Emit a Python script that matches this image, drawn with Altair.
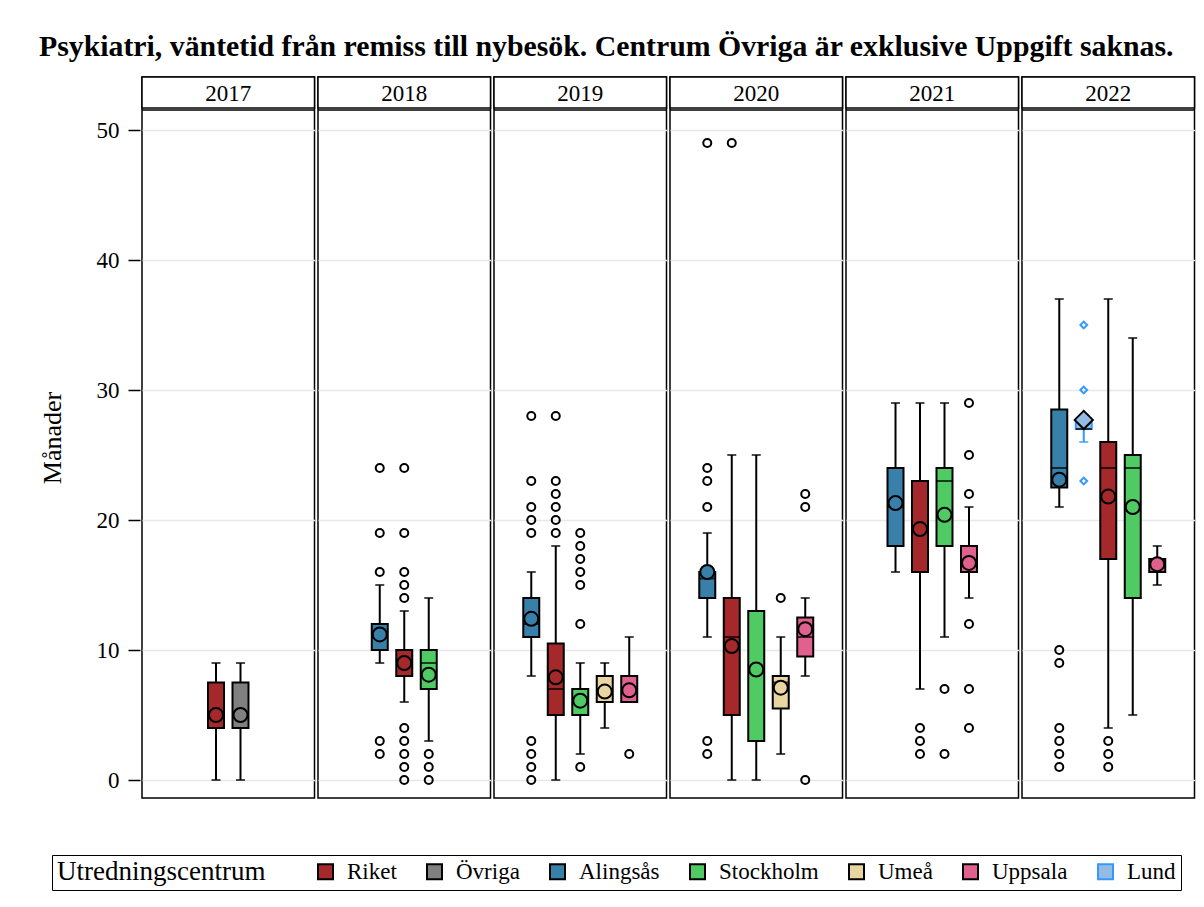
import altair as alt
import pandas as pd

FONT = "Liberation Serif"
W = 172.5        # panel width
HDR = 31         # header box height inside each panel
GAP = 2          # gap between header box and plot box
H = 721          # full panel height (header + plot)
PX_PER_UNIT = 13.0

# ---- box statistics (one row per year/centre) ----
box_year   = [2017, 2017, 2018, 2018, 2018, 2019, 2019, 2019, 2019, 2019,
              2020, 2020, 2020, 2020, 2020, 2021, 2021, 2021, 2021,
              2022, 2022, 2022, 2022, 2022]
box_center = ["Riket", "Övriga", "Alingsås", "Riket", "Stockholm",
              "Alingsås", "Riket", "Stockholm", "Umeå", "Uppsala",
              "Alingsås", "Riket", "Stockholm", "Umeå", "Uppsala",
              "Alingsås", "Riket", "Stockholm", "Uppsala",
              "Alingsås", "Lund", "Riket", "Stockholm", "Uppsala"]
box_min    = [0, 0, 9, 6, 3, 8, 0, 2, 4, 6, 11, 0, 0, 2, 8, 16, 7, 11, 14, 21, 26, 4, 5, 15]
box_q1     = [4, 4, 10, 8, 7, 11, 5, 5, 6, 6, 14, 5, 3, 5.5, 9.5, 18, 16, 18, 16, 22.5, 27, 17, 14, 16]
box_median = [5, 5, 11, 9, 9, 12, 7, 6, 7, 7, 15.5, 11, 8.5, 7.5, 11, 21, 19.5, 23, 16, 24, 27, 24, 24, 16.5]
box_q3     = [7.5, 7.5, 12, 10, 10, 14, 10.5, 7, 8, 8, 16, 14, 13, 8, 12.5, 24, 23, 24, 18, 28.5, 27.5, 26, 25, 17]
box_max    = [9, 9, 15, 13, 14, 16, 18, 9, 9, 11, 19, 25, 25, 11, 14, 29, 29, 29, 21, 37, 27.5, 37, 34, 18]
box_mean   = [5, 5, 11.2, 9.0, 8.1, 12.4, 7.9, 6.1, 6.8, 6.9, 16.0, 10.3, 8.5, 7.1, 11.6,
              21.3, 19.3, 20.4, 16.7, 23.1, 27.7, 21.8, 21.0, 16.6]

# ---- outliers ----
out_year   = ([2018] * 5 + [2018] * 10 + [2018] * 3 +
              [2019] * 9 + [2019] * 6 + [2019] * 7 + [2019] * 1 +
              [2020] * 6 + [2020] * 1 + [2020] * 1 + [2020] * 3 +
              [2021] * 3 + [2021] * 2 + [2021] * 6 +
              [2022] * 6 + [2022] * 3 + [2022] * 3)
out_center = (["Alingsås"] * 5 + ["Riket"] * 10 + ["Stockholm"] * 3 +
              ["Alingsås"] * 9 + ["Riket"] * 6 + ["Stockholm"] * 7 + ["Uppsala"] * 1 +
              ["Alingsås"] * 6 + ["Riket"] * 1 + ["Umeå"] * 1 + ["Uppsala"] * 3 +
              ["Riket"] * 3 + ["Stockholm"] * 2 + ["Uppsala"] * 6 +
              ["Alingsås"] * 6 + ["Lund"] * 3 + ["Riket"] * 3)
out_value  = ([24, 19, 16, 3, 2] + [24, 19, 16, 15, 14, 4, 3, 2, 1, 0] + [2, 1, 0] +
              [28, 23, 21, 20, 19, 3, 2, 1, 0] + [28, 23, 22, 21, 20, 19] +
              [19, 18, 17, 16, 15, 12, 1] + [2] +
              [49, 24, 23, 21, 3, 2] + [49] + [14] + [22, 21, 0] +
              [4, 3, 2] + [7, 2] + [29, 25, 22, 12, 7, 4] +
              [10, 9, 4, 3, 2, 1] + [35, 30, 23] + [3, 2, 1])

center_order = ["Alingsås", "Lund", "Riket", "Stockholm", "Umeå", "Uppsala", "Övriga"]
legend_order = ["Riket", "Övriga", "Alingsås", "Stockholm", "Umeå", "Uppsala", "Lund"]
fill_colors  = ["#A5292B", "#808080", "#3880AA", "#50CB64", "#E8D5A2", "#E0608E", "#93BBE4"]
stroke_colors = ["black", "black", "black", "black", "black", "black", "#3399FF"]
LUND = "#3399FF"

boxes = pd.DataFrame(dict(year=box_year, center=box_center, lo=box_min, q1=box_q1,
                          med=box_median, q3=box_q3, hi=box_max, mean=box_mean))
boxes["ord"] = boxes["center"].map(center_order.index)
boxes = boxes.sort_values(["year", "ord"]).reset_index(drop=True)
n_in_year = boxes.groupby("year")["center"].transform("count")
boxes["slot"] = boxes.groupby("year").cumcount() - (n_in_year - 1) / 2
boxes["kind"] = "box"

outs = pd.DataFrame(dict(year=out_year, center=out_center, val=out_value))
outs = outs.merge(boxes[["year", "center", "slot"]], on=["year", "center"])
outs["kind"] = "out"

data = pd.concat([boxes, outs], ignore_index=True)

half = W / 52.0
X = alt.X("slot:Q", scale=alt.Scale(domain=[-half, half], nice=False, zero=False), axis=None)
yscale = alt.Scale(domain=[-18 / PX_PER_UNIT, (H - 18) / PX_PER_UNIT], nice=False, zero=False)
yaxis = alt.Axis(values=[0, 10, 20, 30, 40, 50], tickSize=12, tickWidth=1.5, tickColor="black",
                 labelPadding=9, labelFontSize=23, labelFont=FONT, labelColor="black",
                 title="Månader", titleFont=FONT, titleFontSize=26, titleFontWeight="normal",
                 titleColor="black", titlePadding=31, grid=True, gridColor="#e8e8e8",
                 gridWidth=1.5, domain=False)

legend = alt.Legend(title="Utredningscentrum", orient="none", legendX=-90, legendY=778,
                    direction="horizontal",
                    titleOrient="left", titleFont=FONT, titleFontSize=27, titleLimit=400,
                    titleFontWeight="normal", titleColor="black", titlePadding=48,
                    labelFont=FONT, labelFontSize=23, labelColor="black", labelOffset=10,
                    labelLimit=300,
                    symbolType="square", symbolSize=225, symbolStrokeWidth=2,
                    columnPadding=26, strokeColor="black", padding=5)
FILL = alt.Fill("center:N", scale=alt.Scale(domain=legend_order, range=fill_colors), legend=legend)
STROKE = alt.Stroke("center:N", scale=alt.Scale(domain=legend_order, range=stroke_colors), legend=legend)
is_lund = alt.datum.center == "Lund"
line_col = alt.condition(is_lund, alt.value(LUND), alt.value("black"))


def Y(field):
    return alt.Y(field, scale=yscale, axis=yaxis)


base = alt.Chart().encode(x=X)
isbox = alt.datum.kind == "box"
isout = alt.datum.kind == "out"

# header box with the year, drawn at the top of every panel
per_year = alt.Chart().transform_filter(isbox).transform_aggregate(n="count()", groupby=["year"])
hdr_box = per_year.mark_rect(fill="white", stroke="black", strokeWidth=1.5).encode(
    x=alt.value(0), x2=alt.value(W), y=alt.value(0), y2=alt.value(HDR))
hdr_sep = per_year.mark_rule(color="black", strokeWidth=1.5).encode(
    x=alt.value(0), x2=alt.value(W), y=alt.value(HDR + GAP), y2=alt.value(HDR + GAP))
hdr_txt = per_year.mark_text(font=FONT, fontSize=23, color="black", baseline="middle").encode(
    text="year:N", x=alt.value(W / 2), y=alt.value(HDR / 2 + 1))

whisk = base.mark_rule(strokeWidth=2).encode(
    y=Y("lo:Q"), y2="hi:Q", color=line_col
).transform_filter(isbox)
cap_lo = base.mark_tick(orient="horizontal", size=9, thickness=2).encode(
    y=Y("lo:Q"), color=line_col).transform_filter(isbox)
cap_hi = base.mark_tick(orient="horizontal", size=9, thickness=2).encode(
    y=Y("hi:Q"), color=line_col).transform_filter(isbox)
box = base.mark_bar(size=16, strokeWidth=2, opacity=1).encode(
    y=Y("q1:Q"), y2="q3:Q", fill=FILL, stroke=STROKE
).transform_filter(isbox)
median = base.mark_tick(orient="horizontal", size=16, thickness=2, color="black").encode(
    y=Y("med:Q")).transform_filter(isbox)
mean = base.mark_point(filled=True, stroke="black", strokeWidth=2, opacity=1).encode(
    y=Y("mean:Q"), fill=FILL,
    shape=alt.condition(is_lund, alt.value("diamond"), alt.value("circle")),
    size=alt.condition(is_lund, alt.value(330), alt.value(196)),
).transform_filter(isbox)
outl = base.mark_point(filled=False, strokeWidth=2, opacity=1).encode(
    y=Y("val:Q"), color=line_col,
    shape=alt.condition(is_lund, alt.value("diamond"), alt.value("circle")),
    size=alt.condition(is_lund, alt.value(45), alt.value(64)),
).transform_filter(isout)

chart = alt.layer(whisk, cap_lo, cap_hi, box, median, mean, outl,
                  hdr_box, hdr_sep, hdr_txt).properties(
    width=W, height=H
).facet(column=alt.Column("year:O", title=None, header=alt.Header(labels=False)),
        data=data, spacing=0).properties(
    title=alt.Title("Psykiatri, väntetid från remiss till nybesök. Centrum Övriga är exklusive Uppgift saknas.",
                    font=FONT, fontSize=29.8, fontWeight="bold", color="black",
                    anchor="start", frame="bounds", offset=14),
    padding={"left": 31, "top": 23, "right": 0, "bottom": 2},
).configure_view(stroke="black", strokeWidth=1.5)

chart.save("out.html", embed_options={"renderer": "svg", "actions": False})
